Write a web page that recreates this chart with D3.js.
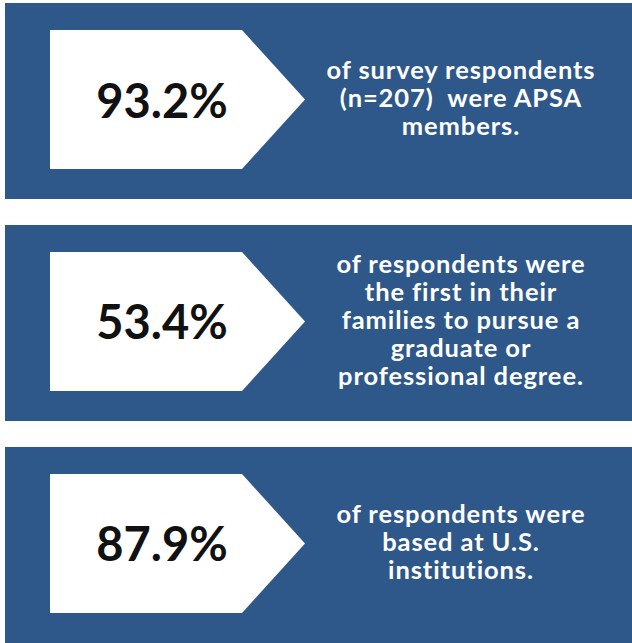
<!DOCTYPE html>
<html>
<head>
<meta charset="utf-8">
<script src="https://cdn.jsdelivr.net/npm/d3@7"></script>
<style>
  html, body { margin: 0; padding: 0; background: #fff; }
  svg { display: block; }
  text { font-family: Lato, "Open Sans", sans-serif; font-weight: 700; white-space: pre; }
</style>
</head>
<body>
<div id="chart"></div>
<script>
// stat values and the text beside each one
const stats = ['93.2%', '53.4%', '87.9%'];
const captions = [
  ['of survey respondents', '(n=207)  were APSA', 'members.'],
  ['of respondents were', 'the first in their', 'families to pursue a', 'graduate or', 'professional degree.'],
  ['of respondents were', 'based at U.S.', 'institutions.']
];

(function(){
  let width = 632, height = 643,
      blue = '#2e5889';

  let svg = d3.select('#chart').append('svg')
    .attr('width', width)
    .attr('height', height);

  let y = d3.scaleBand()
    .domain(d3.range(stats.length))
    .range([3, 643])
    .paddingInner(0.117);

  let panels = svg.selectAll('g.panel')
    .data(stats)
    .enter().append('g')
      .attr('class', 'panel')
      .attr('transform', (d, i) => 'translate(0,' + y(i) + ')');

  let bh = y.bandwidth();

  panels.append('rect')
    .attr('x', 5)
    .attr('width', width - 5)
    .attr('height', bh)
    .attr('fill', blue);

  // arrow shaped white tag
  let top = 27, bottom = bh - 30, mid = (top + bottom) / 2;
  panels.append('path')
    .attr('d', d3.line()([[50, top], [242, top], [305, mid], [242, bottom], [50, bottom]]) + 'Z')
    .attr('fill', '#fff');

  panels.append('text')
    .attr('x', 162)
    .attr('y', mid + 18)
    .attr('text-anchor', 'middle')
    .attr('font-size', 47)
    .attr('fill', '#111')
    .text(d => d);

  let lh = 28;
  panels.append('text')
    .attr('text-anchor', 'middle')
    .attr('font-size', 25.5)
    .attr('letter-spacing', 0.9)
    .attr('fill', '#fff')
    .each(function(d, i){
      let lines = captions[i];
      let y0 = bh / 2 + 6 - (lines.length - 1) / 2 * lh;
      d3.select(this).selectAll('tspan')
        .data(lines)
        .enter().append('tspan')
          .attr('x', 461)
          .attr('y', (l, j) => y0 + j * lh)
          .text(l => l);
    });
})();
</script>
</body>
</html>
